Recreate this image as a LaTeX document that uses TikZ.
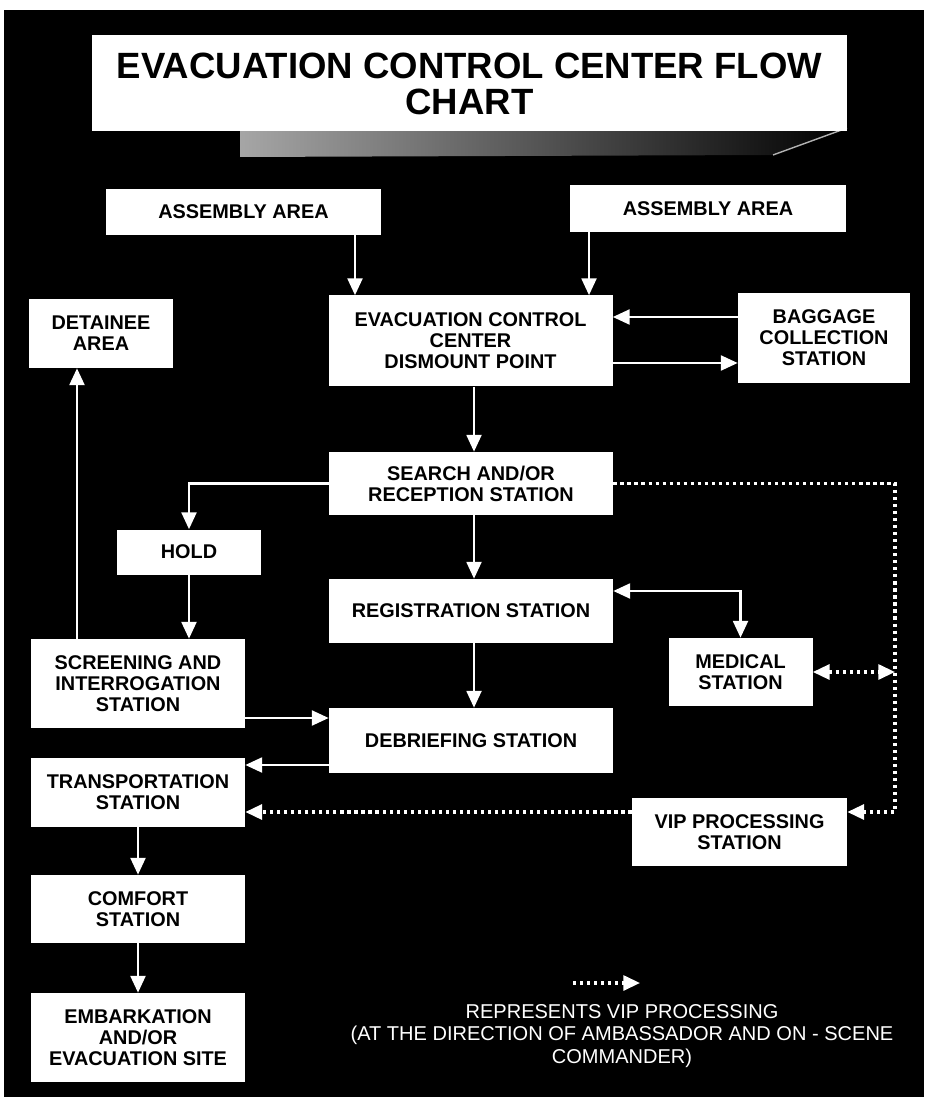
\documentclass[tikz,border=0pt]{standalone}
\usepackage{fontspec}
\setmainfont{Liberation Sans}
\usetikzlibrary{arrows.meta,calc}
\newcommand\boxfont{\fontsize{11.3}{11.9}\selectfont\bfseries}
\newcommand\titlefont{\fontsize{20.8}{20.2}\selectfont\bfseries}
\newcommand\notefont{\fontsize{11.4}{12.8}\selectfont}
\begin{document}
\begin{tikzpicture}[x=0.02cm,y=-0.02cm,
  >={Triangle[width=8.5pt,length=9.5pt]},
  stationbox/.style={fill=white,text=black,font=\boxfont,align=center,inner sep=0pt},
  wh/.style 2 args={minimum width={#1*0.02cm},minimum height={#2*0.02cm}},
  flow/.style={draw=white,line width=1.2pt,->},
  vipflow/.style={draw=white,line width=1.8pt,dash pattern=on 1.8pt off 2.2pt,->}]
\useasboundingbox(0,0)rectangle(924,1097);
\fill[white](0,0)rectangle(924,1097);
\fill[black](4,10)rectangle(924,1097);
\shade[left color=black!35,middle color=black!55,right color=black](240,131)--(847,128)--(773,155)--(240,157)--cycle;
\draw[white!70!black,line width=0.8pt](847,128)--(773,155);
\fill[white](92,35)rectangle(847,131);
\node[font=\titlefont,text=black,align=center,inner sep=0pt](ttl)at(469.5,84){EVACUATION CONTROL CENTER FLOW\\CHART};
\node[stationbox,wh={275}{46}](aaL)at(243.5,212){ASSEMBLY AREA};
\node[stationbox,wh={276}{47}](aaR)at(708,208.5){ASSEMBLY AREA};
\node[stationbox,wh={284}{91}](ecc)at(470.5,341){EVACUATION CONTROL\\CENTER\\DISMOUNT POINT};
\node[stationbox,wh={172}{90}](bag)at(824,338){BAGGAGE\\COLLECTION\\STATION};
\node[stationbox,wh={144}{69}](det)at(101,333.5){DETAINEE\\AREA};
\node[stationbox,wh={284}{63}](srch)at(471,483.5){SEARCH AND/OR\\RECEPTION STATION};
\node[stationbox,wh={144}{45}](hold)at(189,552){HOLD};
\node[stationbox,wh={284}{64}](reg)at(471,611){REGISTRATION STATION};
\node[stationbox,wh={144}{68}](med)at(740.5,672){MEDICAL\\STATION};
\node[stationbox,wh={214}{89}](scr)at(138,683.5){SCREENING AND\\INTERROGATION\\STATION};
\node[stationbox,wh={284}{65}](deb)at(471,740.5){DEBRIEFING STATION};
\node[stationbox,wh={214}{69}](trans)at(138,792.5){TRANSPORTATION\\STATION};
\node[stationbox,wh={215}{68}](vip)at(739.5,832){VIP PROCESSING\\STATION};
\node[stationbox,wh={214}{68}](comf)at(138,909){COMFORT\\STATION};
\node[stationbox,wh={214}{89}](emb)at(138,1037.5){EMBARKATION\\AND/OR\\EVACUATION SITE};
\node[font=\notefont,text=white,align=center,inner sep=0pt](note)at(622,1036){REPRESENTS VIP PROCESSING\\(AT THE DIRECTION OF AMBASSADOR AND ON - SCENE\\COMMANDER)};
\coordinate(la)at(355,0);
\coordinate(lb)at(589,0);
\coordinate(lc)at(474,0);
\coordinate(ld)at(77,0);
\coordinate(lv)at(895,0);
\coordinate(ly1)at(0,317);
\coordinate(ly2)at(0,363);
\coordinate(lr)at(0,591);
\coordinate(ls)at(0,718);
\coordinate(lt)at(0,765);
\coordinate(lw)at(0,812);
\coordinate(lg1)at(573,983);
\coordinate(lg2)at(640,983);
\draw[flow](la|-aaL.south)--(la|-ecc.north);
\draw[flow](lb|-aaR.south)--(lb|-ecc.north);
\draw[flow](bag.west|-ly1)--(ecc.east|-ly1);
\draw[flow](ecc.east|-ly2)--(bag.west|-ly2);
\draw[flow](lc|-ecc.south)--(lc|-srch.north);
\draw[flow](srch.west)-|(hold.north);
\draw[flow](hold.south)--(hold.south|-scr.north);
\draw[flow](ld|-scr.north)--(ld|-det.south);
\draw[flow](lc|-srch.south)--(lc|-reg.north);
\draw[flow](lc|-reg.south)--(lc|-deb.north);
\draw[flow,<->](reg.east|-lr)-|(med.north);
\draw[flow](scr.east|-ls)--(deb.west|-ls);
\draw[flow](deb.west|-lt)--(trans.east|-lt);
\draw[flow](trans.south)--(comf.north);
\draw[flow](comf.south)--(emb.north);
\draw[vipflow](srch.east)-|(lv|-lw)--(vip.east|-lw);
\draw[vipflow,<->](med.east)--(lv|-med.east);
\draw[vipflow](vip.west|-lw)--(trans.east|-lw);
\draw[vipflow](lg1)--(lg2);
\end{tikzpicture}
\end{document}
